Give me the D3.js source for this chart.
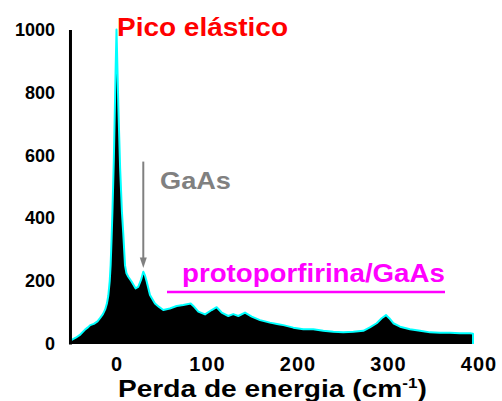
<!DOCTYPE html>
<html>
<head>
<meta charset="utf-8">
<script src="https://cdn.jsdelivr.net/npm/d3@7"></script>
<style>
  body { margin: 0; background: #fff; }
  svg { display: block; font-family: Arial, "Liberation Sans", Helvetica, sans-serif; font-weight: bold; }
</style>
</head>
<body>
<svg id="chart" width="502" height="401"></svg>
<script>
// energy loss (cm-1) and intensity
const energia = [-51.4, -49.5, -45, -40, -35, -32, -29, -25, -21, -18, -15, -12.5, -10.5, -9, -7.5,
  -6.5, -5.5, -4.5, -3, -2, -1, 0, 1, 2, 3, 4, 5, 6, 7.5, 9.4, 11, 13, 16.8, 21, 24, 27, 29.6, 31.5,
  33.4, 37, 42.5, 47, 51.7, 59, 66.5, 73.8, 82, 84.9, 90.4, 97.8, 105.2, 110.7, 116.2, 123.5, 129,
  134.6, 142, 149.4, 158.6, 169.6, 178.8, 184.3, 195.4, 206.4, 217.5, 228.5, 239.6, 250.6, 261.7,
  272.7, 280, 287.5, 293, 297.8, 301.4, 305.9, 313.3, 324.3, 335.4, 346.4, 357.5, 368.5, 379.6,
  390.6, 393.9];
const intensidade = [5, 13, 20, 30, 45, 52, 60, 64, 72, 83, 95, 110, 130, 155, 200,
  250, 330, 420, 580, 720, 870, 1000, 880, 760, 660, 560, 490, 420, 350, 250, 225, 214, 198, 177, 182, 203, 230, 218,
  198, 156, 129, 118, 108, 113, 121, 124, 129, 121, 103, 94, 108, 117, 100, 89, 95,
  89, 100, 87, 76, 68, 63, 60, 52, 47, 47, 42, 39, 37, 39,
  42, 53, 66, 82, 92, 82, 66, 55, 47, 42, 37, 36, 36, 34,
  34, 33];

const xTicks = [0, 100, 200, 300, 400];
const yTicks = [0, 200, 400, 600, 800, 1000];

const FONT = "Arial, 'Liberation Sans', Helvetica, sans-serif";

const svg = d3.select("#chart");

const x = d3.scaleLinear().domain([0, 400]).range([116.5, 478.5]);
const y = d3.scaleLinear().domain([0, 1000]).range([344, 29.5]);

const data = energia.map(function (e, i) {
  return {e: e, v: intensidade[i]};
});

// filled spectrum
const area = d3.area()
  .x(function (d) { return x(d.e); })
  .y0(y(0))
  .y1(function (d) { return y(d.v); });

svg.append("path")
  .datum(data)
  .attr("fill", "#000")
  .attr("d", area);

// cyan outline, dropping to zero at both ends
const outline = [{e: energia[0], v: 0}].concat(data, [{e: energia[energia.length - 1], v: 0}]);
const line = d3.line()
  .x(function (d) { return x(d.e); })
  .y(function (d) { return y(d.v); });

svg.append("path")
  .datum(outline)
  .attr("fill", "none")
  .attr("stroke", "#00ffff")
  .attr("stroke-width", 2)
  .attr("stroke-linejoin", "round")
  .attr("d", line);

// y axis
const yAxis = svg.append("g")
  .attr("transform", "translate(" + x(energia[0]) + ",0)")
  .call(d3.axisLeft(y).tickValues(yTicks).tickFormat(d3.format("d")).tickSize(0).tickPadding(15));
yAxis.attr("font-family", null).attr("font-size", null);
yAxis.select(".domain").attr("stroke", "#000").attr("stroke-width", 3);
yAxis.selectAll("text")
  .style("font-family", FONT)
  .style("font-weight", "bold")
  .style("font-size", "18px")
  .attr("fill", "#000");

// x axis (labels only)
const xAxis = svg.append("g")
  .attr("transform", "translate(0," + y(0) + ")")
  .call(d3.axisBottom(x).tickValues(xTicks).tickFormat(d3.format("d")).tickSize(0).tickPadding(13));
xAxis.attr("font-family", null).attr("font-size", null);
xAxis.select(".domain").remove();
xAxis.selectAll("text")
  .style("font-family", FONT)
  .style("font-weight", "bold")
  .style("font-size", "20px")
  .style("letter-spacing", "1px")
  .attr("fill", "#000");

// stretch a text horizontally to a given width
function fit(g, width) {
  const w = g.node().getBBox().width;
  const t = g.attr("data-t");
  g.attr("transform", t + " scale(" + (width / w) + ",1)");
}

function label(px, py, txt, size, color, width) {
  const g = svg.append("g").attr("data-t", "translate(" + px + "," + py + ")");
  g.append("text")
    .style("font-family", FONT)
    .attr("font-size", size)
    .attr("fill", color)
    .text(txt);
  fit(g, width);
  return g;
}

// annotations
label(x(0) + 0.5, 36, "Pico elástico", 26, "#ff0000", 171);
label(160, 189, "GaAs", 24, "#808080", 71);
label(182, 282, "protoporfirina/GaAs", 25, "#ff00ff", 263);

svg.append("line")
  .attr("x1", 167).attr("x2", 445)
  .attr("y1", 292).attr("y2", 292)
  .attr("stroke", "#ff00ff")
  .attr("stroke-width", 2.5);

// arrow to the GaAs peak
const ax = x(29.6);
svg.append("line")
  .attr("x1", ax).attr("x2", ax)
  .attr("y1", y(580)).attr("y2", y(262))
  .attr("stroke", "#808080")
  .attr("stroke-width", 2);
svg.append("path")
  .attr("d", "M" + (ax - 3.5) + "," + y(275) + "L" + (ax + 3.5) + "," + y(275) + "L" + ax + "," + y(242) + "Z")
  .attr("fill", "#808080");

// axis title
const tg = svg.append("g").attr("data-t", "translate(118,397)");
const tt = tg.append("text").style("font-family", FONT).attr("font-size", 23).attr("fill", "#000");
tt.append("tspan").text("Perda de energia (cm");
tt.append("tspan").attr("font-size", 14).attr("dy", -9).text("-1");
tt.append("tspan").attr("dy", 9).text(")");
fit(tg, 309);
</script>
</body>
</html>
